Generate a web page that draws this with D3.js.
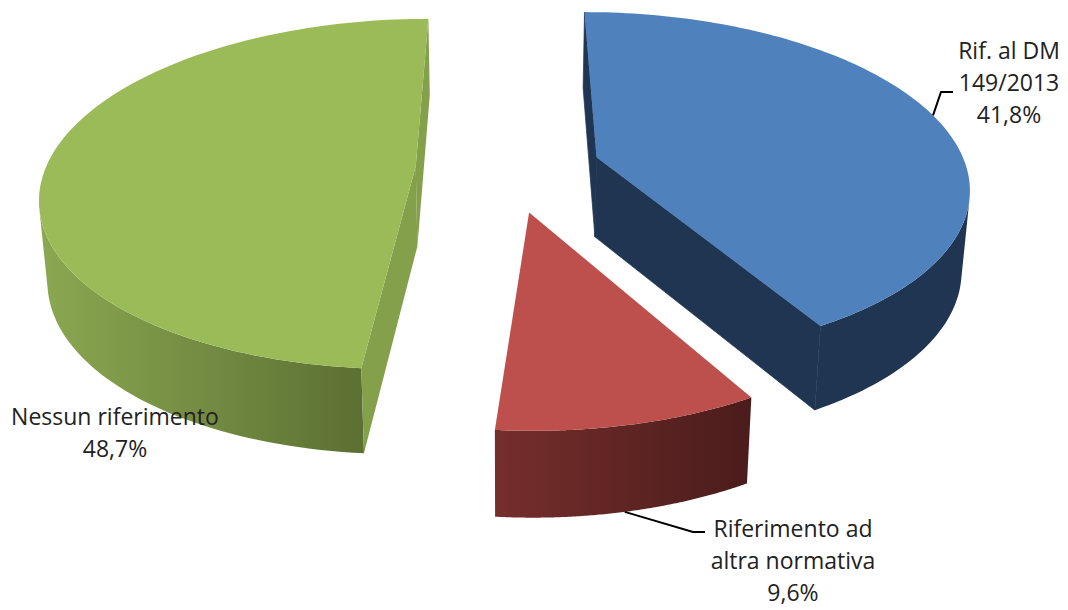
<!DOCTYPE html>
<html><head><meta charset="utf-8">
<script src="https://cdn.jsdelivr.net/npm/d3@7"></script>
<style>html,body{margin:0;background:#fff}svg{display:block}text{font-family:"Open Sans",sans-serif;font-size:23px;fill:#222}</style>
</head><body><svg width="1068" height="610"></svg>
<script>
// Data
const categories = ["Rif. al DM 149/2013", "Riferimento ad altra normativa", "Nessun riferimento"];
const shares = [41.8, 9.6, 48.7];
const labelLines = [["Rif. al DM", "149/2013", "41,8%"], ["Riferimento ad", "altra normativa", "9,6%"], ["Nessun riferimento", "48,7%"]];
const explodes = [0.25, 0.255, 0.25];
const radii = [1, 0.985, 1];

// Styles
const topColors = ["#4f81bd", "#bd4f4c", "#9bbb59"];
const faceColors = ["#1f3552", "#6d2c2a", "#84a04a"];
const wallStops = [["#1f3552", "#1f3552"], ["#752e2c", "#4a1c1b"], ["#8ba851", "#5c7033"]];
const labelX = [1009, 793, 115];
const labelY = [59, 537, 425];
const leaderTail = [[[941, 92], [953, 92]], [[693, 532], [705, 532]], null];
const leaderAngle = [75, 168, null];

// Projection constants
const vanishX = 508, horizonY = -911, groundH = 1079, camD = 6.3, R = 370;
const bottomShrink = 0.982, depth0 = 52, depth1 = 28;
const rScale = d3.scaleLinear().domain([0, 1]).range([0, R]);

const svg = d3.select("svg");
const defs = svg.append("defs");
const pie = d3.pie().sort(null).value(d => d).startAngle(0).endAngle(2 * Math.PI);
const arcs = pie(shares);

function project(arc, r, ang, bottom) {
  const mid = (arc.startAngle + arc.endAngle) / 2;
  const e = explodes[arc.index], rr = r * radii[arc.index];
  const gx = e * Math.sin(mid) + rr * Math.sin(ang);
  const gy = -e * Math.cos(mid) - rr * Math.cos(ang);
  const s = camD / (camD - gy);
  const x = rScale(gx) * s * (bottom ? bottomShrink : 1) + vanishX;
  const y = horizonY + groundH * s + (bottom ? depth0 + depth1 * s : 0);
  return [x, y];
}
const line = d3.line();
const steps = 120;
function arcPts(arc, bottom) {
  return d3.range(0, steps + 1).map(i => project(arc, 1, arc.startAngle + (arc.endAngle - arc.startAngle) * i / steps, bottom));
}

const order = [2, 0, 1];
order.forEach(i => {
  const a = arcs[i], g = svg.append("g").attr("class", "slice");
  const topArc = arcPts(a, false), botArc = arcPts(a, true);
  const apexT = project(a, 0, 0, false), apexB = project(a, 0, 0, true);
  const xs = botArc.concat(topArc).map(p => p[0]);
  const gid = "wall" + i;
  const grad = defs.append("linearGradient").attr("id", gid).attr("gradientUnits", "userSpaceOnUse")
    .attr("x1", d3.min(xs)).attr("x2", i === 2 ? topArc[0][0] : d3.max(xs)).attr("y1", 0).attr("y2", 0);
  wallStops[i].forEach((c, k) => grad.append("stop").attr("offset", k).attr("stop-color", c));
  // outer wall: only the strips that look towards the camera
  let wallPath = "";
  d3.range(0, steps).forEach(k => {
    const quad = [topArc[k], topArc[k + 1], botArc[k + 1], botArc[k]];
    if (d3.polygonArea(quad) > 0) wallPath += line(quad) + "Z";
  });
  g.append("path").attr("d", wallPath).attr("fill", `url(#${gid})`);
  // cut faces, only those that look towards the camera
  const faceStroke = i === 0 ? faceColors[0] : "none";
  const startFace = [apexT, topArc[0], botArc[0], apexB];
  const endFace = [apexT, topArc[steps], botArc[steps], apexB];
  if (d3.polygonArea(startFace) > 0) g.append("path").attr("d", line(startFace) + "Z").attr("fill", faceColors[i]).attr("stroke", faceStroke).attr("stroke-width", 0.7);
  if (d3.polygonArea(endFace) < 0) g.append("path").attr("d", line(endFace) + "Z").attr("fill", faceColors[i]).attr("stroke", faceStroke).attr("stroke-width", 0.7);
  // top surface
  g.append("path").attr("d", line([apexT].concat(topArc)) + "Z").attr("fill", topColors[i]);
});

// Leader lines
arcs.forEach((a, i) => {
  if (!leaderTail[i]) return;
  const rad = leaderAngle[i] * Math.PI / 180;
  const start = project(a, 1, rad, i === 1);
  svg.append("path").attr("d", line([start].concat(leaderTail[i]))).attr("fill", "none")
    .attr("stroke", "#000").attr("stroke-width", 2);
});

// Labels
labelLines.forEach((lines, i) => {
  const t = svg.append("text").attr("text-anchor", "middle");
  lines.forEach((l, k) => t.append("tspan").attr("x", labelX[i]).attr("y", labelY[i] + k * 32).text(l));
});
</script></body></html>
